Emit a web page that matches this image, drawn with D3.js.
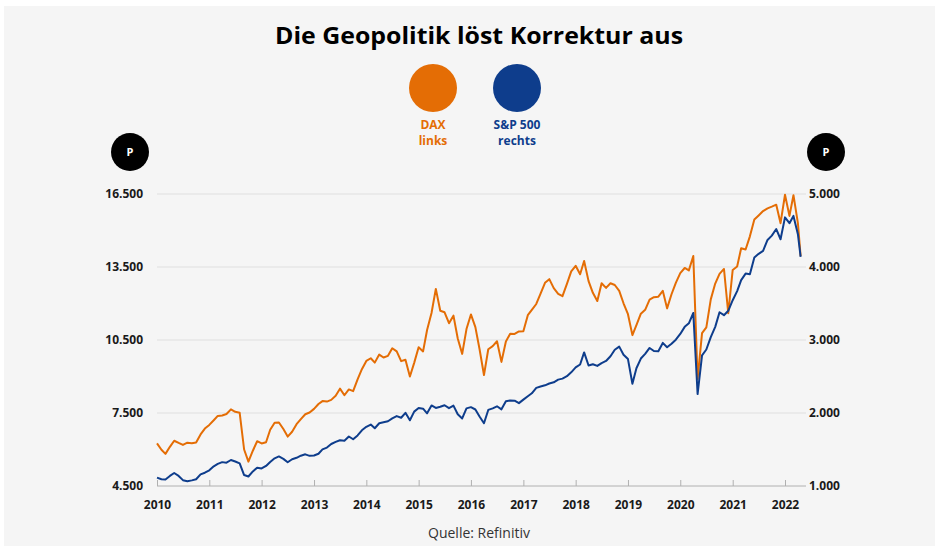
<!DOCTYPE html>
<html>
<head>
<meta charset="utf-8">
<script src="https://cdn.jsdelivr.net/npm/d3@7"></script>
<style>
  body { margin: 0; background: #fff; }
  svg { display: block; font-family: "Open Sans", "DejaVu Sans", sans-serif; }
</style>
</head>
<body>
<svg id="chart" width="939" height="550"></svg>
<script>
// values, one per month of the time axis (Jan 2010 .. Apr 2022) plus the last day
const years = [2010, 2011, 2012, 2013, 2014, 2015, 2016, 2017, 2018, 2019, 2020, 2021, 2022];
const leftTicks = [4500, 7500, 10500, 13500, 16500];
const rightTicks = [1000, 2000, 3000, 4000, 5000];

const dax = [
  6250, 5990, 5820, 6110, 6360, 6270, 6190, 6280, 6260, 6290, 6620, 6860,
  7010, 7200, 7380, 7400, 7460, 7650, 7550, 7510, 6000, 5500, 5950, 6340,
  6250, 6300, 6810, 7100, 7110, 6840, 6530, 6730, 7040, 7250, 7450, 7520,
  7670, 7870, 7990, 7970, 8040, 8210, 8500, 8230, 8470, 8400, 8880, 9300,
  9640, 9750, 9570, 9900, 9780, 9850, 10160, 10030, 9630, 9690, 9000, 9560,
  10200, 10030, 10910, 11610, 12600, 11700, 11640, 11190, 11500, 10560, 9930, 10950,
  11550, 11030, 10130, 9060, 10120, 10250, 10450, 9600, 10440, 10760, 10750, 10850,
  10860, 11520, 11740, 11980, 12410, 12850, 13000, 12630, 12400, 12300, 12810, 13320,
  13550, 13200, 13750, 12920, 12440, 12100, 12830, 12640, 12830, 12760, 12520, 12010,
  11560, 10700, 11110, 11580, 11740, 12160, 12260, 12280, 12520, 11800, 12380, 12850,
  13250, 13460, 13360, 13950, 8900, 10780, 11020, 12170, 12820, 13220, 13420, 11600,
  13380, 13520, 14270, 14220, 14760, 15450, 15620, 15800, 15910, 15980, 16060, 15300,
  16470, 15600, 16450, 15300, 13950
];

const spx = [
  1115, 1093, 1090, 1138, 1178, 1138, 1080, 1066, 1077, 1092, 1160, 1182,
  1215, 1270, 1303, 1327, 1320, 1356, 1336, 1310, 1150, 1130, 1200, 1251,
  1240, 1275, 1329, 1379, 1405, 1372, 1325, 1367, 1386, 1415, 1434, 1413,
  1418, 1442, 1502, 1526, 1575, 1604, 1627, 1619, 1678, 1640, 1693, 1763,
  1811, 1841, 1791, 1860, 1873, 1887, 1926, 1958, 1935, 2002, 1900, 2019,
  2068, 2059, 1995, 2103, 2069, 2085, 2106, 2066, 2101, 1983, 1925, 2063,
  2080, 2048, 1952, 1860, 2042, 2064, 2092, 2050, 2160, 2172, 2168, 2135,
  2183, 2230, 2270, 2344, 2363, 2379, 2404, 2420, 2457, 2471, 2504, 2557,
  2624, 2665, 2830, 2650, 2667, 2645, 2684, 2713, 2777, 2867, 2909, 2799,
  2739, 2400, 2613, 2746, 2810, 2891, 2849, 2845, 2960, 2900, 2949, 3004,
  3083, 3180, 3229, 3370, 2260, 2790, 2870, 3040, 3180, 3380, 3340, 3400,
  3545, 3670, 3820, 3910, 3900, 4130, 4180, 4220, 4370, 4430, 4520, 4380,
  4680, 4600, 4700, 4450, 4140
];

const dates = d3.timeMonth.range(new Date(2010, 0, 1), new Date(2022, 4, 1));
dates.push(new Date(2022, 3, 20));

const orange = '#e46d05';
const blue = '#0e3d8c';

const svg = d3.select('#chart');
const de = d3.formatLocale({ decimal: ',', thousands: '.', grouping: [3], currency: ['', '€'] });
const fmt = de.format(',');

svg.append('rect')
  .attr('x', 4).attr('y', 6)
  .attr('width', 931).attr('height', 540)
  .attr('fill', '#f5f5f5');

svg.append('text')
  .attr('x', 479).attr('y', 44)
  .attr('text-anchor', 'middle')
  .attr('font-size', 24).attr('font-weight', 700)
  .attr('textLength', 408).attr('lengthAdjust', 'spacingAndGlyphs')
  .attr('fill', '#000')
  .text('Die Geopolitik löst Korrektur aus');

// legend
const legend = [
  { x: 433, color: orange, l1: 'DAX', l2: 'links' },
  { x: 517, color: blue, l1: 'S&P 500', l2: 'rechts' }
];
const lg = svg.append('g').selectAll('g').data(legend).join('g');
lg.append('circle').attr('cx', d => d.x).attr('cy', 88).attr('r', 24).attr('fill', d => d.color);
lg.append('text').attr('x', d => d.x).attr('y', 129).attr('text-anchor', 'middle')
  .attr('font-size', 12).attr('font-weight', 700).attr('fill', d => d.color).text(d => d.l1);
lg.append('text').attr('x', d => d.x).attr('y', 145).attr('text-anchor', 'middle')
  .attr('font-size', 12).attr('font-weight', 700).attr('fill', d => d.color).text(d => d.l2);

// "P" badges
[130, 826].forEach(cx => {
  svg.append('circle').attr('cx', cx).attr('cy', 152).attr('r', 19).attr('fill', '#000');
  svg.append('text').attr('x', cx).attr('y', 156).attr('text-anchor', 'middle')
    .attr('font-size', 11).attr('font-weight', 700).attr('fill', '#fff').text('P');
});

const x = d3.scaleTime()
  .domain([new Date(2010, 0, 1), new Date(2022, 0, 1)])
  .range([157, 785]);
const yL = d3.scaleLinear().domain([4500, 16500]).range([486, 194]);
const yR = d3.scaleLinear().domain([1000, 5000]).range([486, 194]);

// grid
svg.append('g')
  .selectAll('line')
  .data(leftTicks.slice(1))
  .join('line')
  .attr('x1', 157).attr('x2', 806)
  .attr('y1', d => yL(d)).attr('y2', d => yL(d))
  .attr('stroke', '#e6e6e6').attr('stroke-width', 1.5);

svg.append('g')
  .attr('transform', 'translate(143,0)')
  .call(d3.axisLeft(yL).tickValues(leftTicks).tickFormat(fmt).tickSize(0).tickPadding(0))
  .call(g => g.select('.domain').remove())
  .call(g => g.selectAll('text').attr('font-size', 12).attr('font-weight', 700).attr('fill', '#1a1a1a')
    .attr('font-family', '"Open Sans", sans-serif'));

svg.append('g')
  .attr('transform', 'translate(809,0)')
  .call(d3.axisRight(yR).tickValues(rightTicks).tickFormat(fmt).tickSize(0).tickPadding(0))
  .call(g => g.select('.domain').remove())
  .call(g => g.selectAll('text').attr('font-size', 12).attr('font-weight', 700).attr('fill', '#1a1a1a')
    .attr('font-family', '"Open Sans", sans-serif'));

// x axis
svg.append('line')
  .attr('x1', 157).attr('x2', 806).attr('y1', 486).attr('y2', 486)
  .attr('stroke', '#b0b0b0').attr('stroke-width', 1);

svg.append('g')
  .attr('transform', 'translate(0,486)')
  .call(d3.axisBottom(x)
    .tickValues(years.map(y => new Date(y, 0, 1)))
    .tickFormat(d3.timeFormat('%Y'))
    .tickSizeInner(-6).tickSizeOuter(0).tickPadding(14))
  .call(g => g.select('.domain').remove())
  .call(g => g.selectAll('.tick line').attr('stroke', '#b0b0b0'))
  .call(g => g.selectAll('text').attr('font-size', 12).attr('font-weight', 700).attr('fill', '#1a1a1a')
    .attr('font-family', '"Open Sans", sans-serif'));

// lines
const lineL = d3.line().x((d, i) => x(dates[i])).y(d => yL(d));
const lineR = d3.line().x((d, i) => x(dates[i])).y(d => yR(d));

svg.append('path').datum(dax)
  .attr('d', lineL).attr('fill', 'none')
  .attr('stroke', orange).attr('stroke-width', 2).attr('stroke-linejoin', 'round');

svg.append('path').datum(spx)
  .attr('d', lineR).attr('fill', 'none')
  .attr('stroke', blue).attr('stroke-width', 2).attr('stroke-linejoin', 'round');

svg.append('text')
  .attr('x', 479).attr('y', 538)
  .attr('text-anchor', 'middle')
  .attr('font-size', 14).attr('fill', '#333')
  .text('Quelle: Refinitiv');
</script>
</body>
</html>
